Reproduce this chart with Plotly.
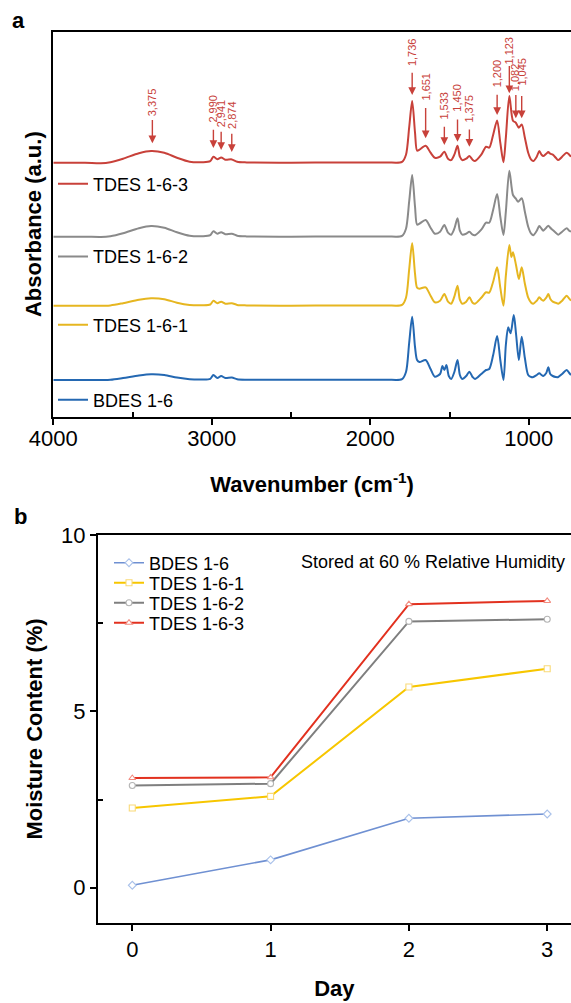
import plotly.graph_objects as go

W = 571
H = 1003

# ---------------- panel a : FTIR spectra (heights in a.u.)
labels_a = ['BDES 1-6', 'TDES 1-6-1', 'TDES 1-6-2', 'TDES 1-6-3']

wn_bdes = [4000, 3800, 3640, 3560, 3460, 3383, 3300, 3220, 3140, 3060, 3010, 2990, 2965, 2941, 2915, 2874,
           2840, 2780, 2500, 2200, 1900, 1800, 1775, 1755, 1736, 1718, 1705, 1690, 1651, 1620, 1593, 1560,
           1545, 1533, 1520, 1505, 1490, 1470, 1450, 1435, 1420, 1395, 1375, 1355, 1340, 1300, 1270, 1250,
           1225, 1200, 1180, 1160, 1145, 1130, 1115, 1095, 1080, 1063, 1045, 1025, 1004, 985, 972, 950,
           934, 920, 909, 890, 877, 865, 849, 830, 814, 790, 761, 745, 734]
abs_bdes = [0, 0, 0.3, 2, 4.5, 5.7, 5, 2.5, 0.8, 0.5, 1.2, 5, 2, 4, 2, 2.5,
            0.8, 0.3, 0.3, 0.3, 0.3, 0.8, 8, 37, 63.3, 33, 20, 18, 20, 11, 3.3, 6,
            14, 10, 15, 4, 1, 8, 20, 5, 1, 4, 8.3, 3, 1, 6, 10, 11,
            25, 44, 20, 0, 35, 52.7, 46.7, 65, 45, 20, 43.3, 22, 5, 3, 3, 5,
            6.7, 5, 4, 7, 12.7, 6, 4, 3, 3, 6, 10, 7, 5]

wn_t1 = [4000, 3800, 3640, 3560, 3460, 3383, 3300, 3220, 3140, 3060, 3010, 2990, 2965, 2941, 2915, 2874,
         2840, 2780, 2500, 2200, 1900, 1800, 1775, 1755, 1736, 1718, 1705, 1690, 1651, 1620, 1593, 1560,
         1533, 1510, 1490, 1470, 1450, 1435, 1420, 1395, 1375, 1355, 1340, 1300, 1270, 1250, 1225, 1200,
         1180, 1160, 1145, 1123, 1110, 1100, 1080, 1063, 1045, 1025, 1004, 985, 972, 950, 934, 920,
         909, 890, 877, 865, 849, 830, 814, 790, 761, 745, 734]
abs_t1 = [0, 0, 0.3, 2.5, 6, 7.4, 6.5, 3, 0.8, 0.5, 1.2, 5, 2.5, 4, 2, 2.5,
          0.8, 0.3, 0, 0.3, 0.3, 0.8, 8, 36, 62.7, 32, 18, 17, 18.4, 10, 3.4, 5,
          11.7, 4, 2, 9, 20, 6, 2, 4, 8.4, 3, 2, 8, 13.4, 13, 24, 38.4,
          18, 0, 30, 60.7, 48.7, 53.4, 40, 26.7, 38.4, 22, 8, 3, 2, 5, 8.4, 6,
          5, 8, 11.7, 7, 4, 3, 2, 5, 10, 7, 5]

wn_t2 = [4000, 3800, 3700, 3640, 3560, 3460, 3383, 3300, 3220, 3140, 3060, 3010, 2990, 2965, 2941, 2915,
         2874, 2840, 2780, 2500, 2200, 1900, 1800, 1775, 1755, 1736, 1718, 1705, 1690, 1651, 1620, 1593,
         1560, 1533, 1510, 1490, 1470, 1450, 1435, 1420, 1395, 1375, 1355, 1340, 1300, 1270, 1250, 1225,
         1200, 1180, 1160, 1145, 1123, 1100, 1082, 1068, 1045, 1025, 1004, 985, 972, 950, 934, 920,
         909, 890, 877, 865, 849, 830, 814, 790, 761, 745, 734]
abs_t2 = [0, 0, -0.3, 0.5, 3.5, 8.5, 10.7, 9, 4.5, 1, 0.5, 1.5, 5.5, 3, 4.5, 2.5,
          3, 1, 0.3, 0, 0.3, 0.3, 0.8, 8, 35, 61.7, 30, 12, 13, 16.7, 9, 3,
          5, 11.7, 4, 2, 8, 18.4, 6, 2, 3, 5, 2, 1.5, 7, 14, 14, 27,
          42.7, 20, 1.7, 25, 66, 41.7, 38, 35, 38.4, 25, 10, 3, 1.5, 6, 10.7, 8,
          6, 9, 11, 9, 6.7, 4, 2, 5, 8.4, 6, 5]

wn_t3 = [4000, 3800, 3700, 3640, 3560, 3460, 3383, 3300, 3220, 3140, 3060, 3010, 2990, 2965, 2941, 2915,
         2874, 2840, 2780, 2500, 2200, 1900, 1800, 1775, 1755, 1736, 1718, 1705, 1690, 1651, 1620, 1593,
         1560, 1533, 1510, 1490, 1470, 1450, 1435, 1420, 1395, 1375, 1355, 1340, 1300, 1270, 1250, 1225,
         1200, 1180, 1160, 1145, 1123, 1100, 1082, 1063, 1045, 1025, 1004, 985, 972, 950, 934, 920,
         909, 890, 877, 865, 849, 830, 814, 790, 761, 745, 734]
abs_t3 = [0, 0, -0.5, 0.5, 4, 9.5, 11.7, 10, 5, 1, 0.5, 1.5, 6, 3.5, 5.3, 3,
          3.3, 1, 0.3, 0, 0.3, 0.3, 0.8, 8, 35, 61.6, 30, 12, 13, 17, 10, 5,
          6, 11, 4, 2.6, 8, 17, 6, 2.6, 4, 6.6, 3, 1.6, 8, 16, 15, 28,
          42.3, 20, 0.5, 25, 66.6, 42, 40, 35, 38.3, 25, 10, 3, 1.6, 6, 11.6, 8,
          6.6, 9, 10.6, 9, 8, 5, 2.6, 6, 10, 8, 6]

wn_list = [wn_bdes, wn_t1, wn_t2, wn_t3]
abs_list = [abs_bdes, abs_t1, abs_t2, abs_t3]

# peaks marked on TDES 1-6-3
peak_wn = [3375, 2990, 2941, 2874, 1736, 1651, 1533, 1450, 1375, 1200, 1123, 1082, 1045]
peak_txt = ['3,375', '2,990', '2,941', '2,874', '1,736', '1,651', '1,533', '1,450', '1,375',
            '1,200', '1,123', '1,082', '1,045']

# ---------------- panel b : moisture uptake
days = [0, 1, 2, 3]
labels_b = ['BDES 1-6', 'TDES 1-6-1', 'TDES 1-6-2', 'TDES 1-6-3']
moist_bdes = [0.07, 0.79, 1.97, 2.09]
moist_t1 = [2.26, 2.59, 5.69, 6.21]
moist_t2 = [2.90, 2.95, 7.55, 7.61]
moist_t3 = [3.11, 3.13, 8.04, 8.13]
moist_list = [moist_bdes, moist_t1, moist_t2, moist_t3]

# ---------------- styles
FONT = 'Arial, Liberation Sans, sans-serif'
col_a = ['#2468B2', '#E6B620', '#8A8A8A', '#C8413A']
col_b = ['#6F90D2', '#F7C600', '#7F7F7F', '#E2311F']
col_mk = ['#A9C1EA', '#F9DA78', '#B5B5B5', '#F28C80']
symb = ['diamond', 'square', 'circle', 'triangle-up']
offs = [36.7, 111, 180, 254]          # vertical stacking of spectra (px units)
leg_a_y = [400, 325, 256.7, 184]        # legend rows panel a (px from top)
leg_b_y = [563, 583, 603, 623]

# arrow tip height above red baseline, arrow length, label bottom above baseline
ann_pos = [(19.4, 23, 46), (14.7, 18, 39.7), (12.7, 18, 34.7), (10.7, 18, 32.7),
           (67.7, 22, 96), (24.4, 30, 61), (17.7, 18, 42.7), (21, 22, 49.7),
           (16, 17, 39.7), (47.7, 20, 74.7), (69.4, 27, 97.7), (44.4, 23, 70.5),
           (44.4, 22, 76)]
HALF_LAB = 14.8


def px_x(p):
    return p / W


def px_y(p):
    return 1 - p / H


fig = go.Figure()

for i in range(4):
    fig.add_trace(go.Scatter(x=wn_list[i], y=[v + offs[i] for v in abs_list[i]],
                             mode='lines', name=labels_a[i],
                             line=dict(color=col_a[i], width=2, shape='spline', smoothing=0.8),
                             xaxis='x', yaxis='y', legend='legend' if i == 0 else 'legend%d' % (i + 1),
                             hoverinfo='skip'))

for i in range(4):
    fig.add_trace(go.Scatter(x=days, y=moist_list[i], mode='lines+markers', name=labels_b[i],
                             line=dict(color=col_b[i], width=1.6 if i == 0 else 2),
                             marker=dict(symbol=symb[i], size=6, color='white',
                                         line=dict(color=col_mk[i], width=1.1)),
                             xaxis='x2', yaxis='y2', legend='legend%d' % (i + 5)))

annotations = []
red_base = offs[3]
for k in range(len(peak_wn)):
    tip, alen, lab = ann_pos[k]
    annotations.append(dict(x=peak_wn[k], y=red_base + tip, xref='x', yref='y', text=peak_txt[k],
                            textangle=-90, showarrow=True, ax=0, ay=-(lab - tip + HALF_LAB),
                            startstandoff=max(lab - tip - alen, 0), arrowhead=2, arrowsize=1.1,
                            arrowwidth=1.4, arrowcolor='#C8413A', borderpad=0,
                            font=dict(family=FONT, size=11, color='#C8413A')))

annotations.append(dict(x=px_x(18), y=px_y(20), xref='paper', yref='paper', text='<b>a</b>',
                        xanchor='center', yanchor='middle',
                        showarrow=False, font=dict(family=FONT, size=22, color='black')))
annotations.append(dict(x=px_x(20), y=px_y(516), xref='paper', yref='paper', text='<b>b</b>',
                        xanchor='center', yanchor='middle',
                        showarrow=False, font=dict(family=FONT, size=22, color='black')))
annotations.append(dict(x=px_x(567), y=px_y(562), xref='paper', yref='paper',
                        text='Stored at 60 % Relative Humidity', xanchor='right', yanchor='middle',
                        showarrow=False, font=dict(family=FONT, size=18, color='black')))

legends = {}
for i in range(4):
    key = 'legend' if i == 0 else 'legend%d' % (i + 1)
    legends[key] = dict(x=px_x(53), y=px_y(leg_a_y[i]), xanchor='left', yanchor='middle',
                        bgcolor='rgba(0,0,0,0)', font=dict(family=FONT, size=18, color='black'))
for i in range(4):
    legends['legend%d' % (i + 5)] = dict(x=px_x(109), y=px_y(leg_b_y[i]), xanchor='left',
                                        yanchor='middle', bgcolor='rgba(0,0,0,0)',
                                        font=dict(family=FONT, size=18, color='black'))

axis_common = dict(showline=True, linecolor='black', linewidth=1.6, mirror=True, automargin=False,
                   showgrid=False, zeroline=False, ticks='outside', ticklen=6, tickwidth=1.5,
                   tickcolor='black', tickfont=dict(family=FONT, size=22, color='black'))

fig.update_layout(
    width=W, height=H, margin=dict(l=0, r=0, t=0, b=0, autoexpand=False),
    paper_bgcolor='white', plot_bgcolor='white', showlegend=True,
    xaxis=dict(axis_common, domain=[px_x(53.3), 1], anchor='y', range=[4000, 734],
               tickvals=[4000, 3000, 2000, 1000], ticklabelstandoff=-5,
               minor=dict(tickvals=[3500, 2500, 1500], ticks='inside', ticklen=5, tickwidth=1.5,
                          tickcolor='black'),
               title=dict(text='Wavenumber (cm<sup>-1</sup>)', standoff=27,
                          font=dict(family=FONT, size=22, color='black', weight='bold'))),
    yaxis=dict(showline=True, linecolor='black', linewidth=1.6, mirror=False, showgrid=False,
               automargin=False, zeroline=False, showticklabels=False, ticks='',
               domain=[px_y(416.7), px_y(31.7)], anchor='x', range=[0, 385],
               title=dict(text='Absorbance (a.u.)', standoff=4,
                          font=dict(family=FONT, size=22, color='black', weight='bold'))),
    xaxis2=dict(axis_common, domain=[px_x(97.7), 1], anchor='y2', range=[-0.25, 3.172],
                tickvals=[0, 1, 2, 3],
                title=dict(text='Day', standoff=19,
                           font=dict(family=FONT, size=22, color='black', weight='bold'))),
    yaxis2=dict(axis_common, mirror=False, domain=[px_y(923), px_y(535)], anchor='x2', range=[-1, 10],
                tickvals=[0, 5, 10],
                minor=dict(tickvals=[2.5, 7.5], ticks='inside', ticklen=5, tickwidth=1.5,
                           tickcolor='black'),
                title=dict(text='Moisture Content (%)', standoff=12,
                           font=dict(family=FONT, size=22, color='black', weight='bold'))),
    annotations=annotations,
    **legends,
)

fig.write_html('out.html', config={'displayModeBar': False},
               post_script="document.body.style.margin='0';")
